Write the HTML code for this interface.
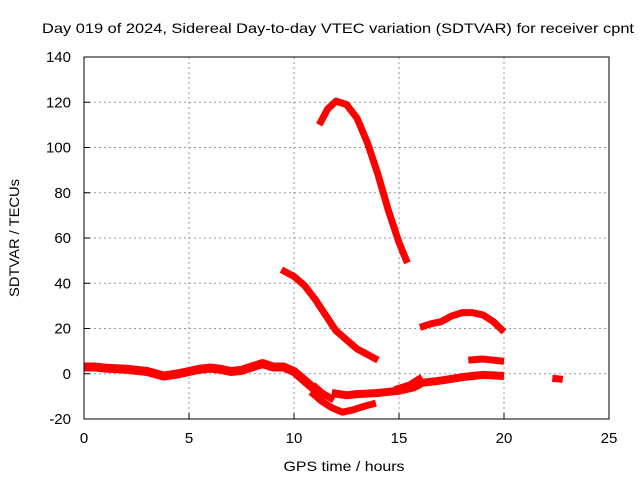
<!DOCTYPE html>
<html><head><meta charset="utf-8"><style>
body{margin:0;background:#fff;}
svg{display:block;font-family:"Liberation Sans",sans-serif;}
</style></head><body>
<svg id="chart" width="640" height="480">
<text x="338" y="33" font-size="14" text-anchor="middle" textLength="592" lengthAdjust="spacingAndGlyphs">Day 019 of 2024, Sidereal Day-to-day VTEC variation (SDTVAR) for receiver cpnt</text>
<text x="344" y="471" font-size="14" text-anchor="middle" textLength="121" lengthAdjust="spacingAndGlyphs">GPS time / hours</text>
<text transform="translate(19,238) rotate(-90)" font-size="14" text-anchor="middle" textLength="118" lengthAdjust="spacingAndGlyphs">SDTVAR / TECUs</text>
<g id="grid"></g><g id="series"></g>
<rect x="84" y="57" width="525" height="362" fill="none" stroke="#000" stroke-width="1"/>
</svg>
<script>
const xTicks=[0,5,10,15,20,25];
const yTicks=[-20,0,20,40,60,80,100,120,140];
const seriesBase=[[0,3],[0.5,3],[1,2.5],[2,2],[3,1],[3.8,-1],[4.5,0],[5.5,2],[6,2.5],[6.5,2],[7,1],[7.5,1.5],[8,3],[8.5,4.5],[9,3],[9.5,3],[10,1],[10.5,-3],[11,-7],[11.5,-10]];
const seriesLoop=[[10.8,-8],[11.3,-12],[11.8,-15],[12.3,-17],[12.8,-16],[13.3,-14.5],[13.9,-13]];
const seriesLowMid=[[10.9,-5],[11.4,-9],[11.9,-11.5]];
const seriesLow=[[11.8,-8.5],[12.5,-9.5],[13,-9],[14,-8.5],[15,-7.5],[15.7,-6],[16.1,-4],[17,-3],[18,-1.5],[19,-0.5],[20,-1]];
const seriesRise=[[14.8,-7],[15.5,-5],[16.1,-1.5]];
const seriesMid=[[9.4,46],[10,43],[10.5,39],[11,33],[11.5,26],[12,19],[12.5,15],[13,11],[13.5,8.5],[14,6]];
const seriesPeak=[[11.2,110],[11.6,117],[12,120.5],[12.5,119],[13,113],[13.5,102],[14,88],[14.5,72],[15,58],[15.4,49]];
const seriesEve=[[16,20.5],[16.5,22],[17,23],[17.5,25.5],[18,27],[18.5,27],[19,26],[19.5,23],[20,18.5]];
const seriesEveLow=[[18.3,6],[19,6.5],[20,5.5]];
const seriesLate=[[22.3,-2],[22.8,-2.5]];
const allSeries=[seriesBase,seriesLoop,seriesLowMid,seriesLow,seriesRise,seriesMid,seriesPeak,seriesEve,seriesEveLow,seriesLate];
const widths=[9,7,7,8,7,7,7,7,7,7];
const X0=84,X1=609,Y0=419,Y1=57;
const xs=v=>X0+(v-0)/25*(X1-X0);
const ys=v=>Y0-(v+20)/160*(Y0-Y1);
const NS="http://www.w3.org/2000/svg";
const grid=document.getElementById('grid');
function mk(tag,attrs,parent){const e=document.createElementNS(NS,tag);for(const k in attrs)e.setAttribute(k,attrs[k]);parent.appendChild(e);return e;}
xTicks.forEach(t=>{
  const x=xs(t);
  if(t>0&&t<25){const l=mk('line',{x1:x,y1:Y1,x2:x,y2:Y0,stroke:'#999','stroke-dasharray':'2,3'},grid);
  
  }
  const tk=mk('line',{x1:x,y1:Y0,x2:x,y2:Y0-6,stroke:'#000'},grid);
  
  
  const tx=mk('text',{x:x,y:Y0+24,'font-size':'15','text-anchor':'middle'},grid);tx.textContent=t;
  
  
});
yTicks.forEach(t=>{
  const y=ys(t);
  if(t>-20&&t<140){const l=mk('line',{x1:X0,y1:y,x2:X1,y2:y,stroke:'#999','stroke-dasharray':'2,3'},grid);
  
  }
  const tk=mk('line',{x1:X0,y1:y,x2:X0+6,y2:y,stroke:'#000'},grid);
  
  
  const tx=mk('text',{x:X0-13,y:y+5,'font-size':'15','text-anchor':'end'},grid);tx.textContent=t;
  
  
});
const sg=document.getElementById('series');
allSeries.forEach((s,i)=>{
  const p=mk('polyline',{points:s.map(d=>xs(d[0])+','+ys(d[1])).join(' '),fill:'none',stroke:'#ff0000','stroke-width':widths[i],'stroke-linejoin':'round','stroke-linecap':'butt'},sg);
  
  
});
</script>
</body></html>
